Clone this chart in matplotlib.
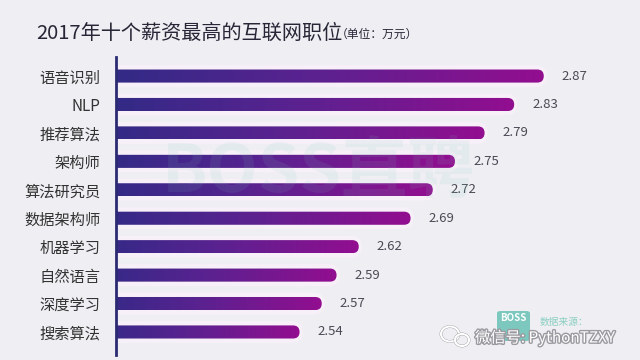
import matplotlib
matplotlib.use('Agg')
import matplotlib.pyplot as plt
import matplotlib.patheffects as pe
import numpy as np
from matplotlib.colors import LinearSegmentedColormap
from matplotlib.patches import FancyBboxPatch, Ellipse

plt.rcParams['font.family'] = ['Noto Sans CJK SC', 'DejaVu Sans']

jobs = ['语音识别', 'NLP', '推荐算法', '架构师', '算法研究员',
        '数据架构师', '机器学习', '自然语言', '深度学习', '搜索算法']
salaries = [2.87, 2.83, 2.79, 2.75, 2.72, 2.69, 2.62, 2.59, 2.57, 2.54]
title = '2017年十个薪资最高的互联网职位'
unit = '（单位：万元）'

BG = '#efeef3'
cmap = LinearSegmentedColormap.from_list('bm', ['#2b2c84', '#5a2290', '#920e8f'])

fig = plt.figure(figsize=(6.4, 3.6), dpi=100, facecolor=BG)
ax = fig.add_axes([116 / 640, 5 / 360, 524 / 640, 298 / 360])
ax.set_facecolor(BG)

x_min, x_max = 2.292, 3.0
y_lim = (len(jobs) - 0.19, -0.67)
ax.set_xlim(x_min, x_max)
ax.set_ylim(*y_lim)

# aspect between data units so the rounded ends come out as half circles
px_x = ax.transData.transform((1, 0))[0] - ax.transData.transform((0, 0))[0]
px_y = abs(ax.transData.transform((0, 1))[1] - ax.transData.transform((0, 0))[1])
aspect = px_x / px_y

bar_h = 0.46
start = x_min - 0.05
grad = np.linspace(0, 1, 256).reshape(1, -1)

for i, v in enumerate(salaries):
    # soft halo behind bar
    halo_h = bar_h + 0.3
    halo = FancyBboxPatch((start, i - halo_h / 2), v - start + 0.004, halo_h,
                          boxstyle=f"round,pad=0,rounding_size={halo_h / 2 / aspect}",
                          mutation_aspect=aspect, facecolor='#fbf2fb', edgecolor='none',
                          alpha=0.75, zorder=2)
    ax.add_patch(halo)

    shape = FancyBboxPatch((start, i - bar_h / 2), v - start, bar_h,
                           boxstyle=f"round,pad=0,rounding_size={bar_h / 2 / aspect}",
                           mutation_aspect=aspect, facecolor='none', edgecolor='none',
                           zorder=3)
    ax.add_patch(shape)
    im = ax.imshow(grad, extent=[start, v, i + bar_h / 2, i - bar_h / 2],
                   aspect='auto', cmap=cmap, zorder=3, interpolation='bilinear')
    im.set_clip_path(shape)

    ax.annotate(f'{v:.2f}', xy=(v, i), xytext=(13, 0), textcoords='offset points',
                ha='left', va='center', fontsize=9.5, color='#4a4a55', zorder=4)

ax.set_xlim(x_min, x_max)
ax.set_ylim(*y_lim)

for side in ['top', 'right', 'bottom']:
    ax.spines[side].set_visible(False)
ax.spines['left'].set_color('#2b2a72')
ax.spines['left'].set_linewidth(2)
ax.spines['left'].set_zorder(5)

ax.set_xticks([])
ax.set_yticks(range(len(jobs)))
ax.set_yticklabels(jobs, fontsize=11, color='#333333')
ax.tick_params(axis='y', length=0, pad=11)

fig.text(36 / 640, 1 - 33 / 360, title, fontsize=14.5, color='#262636',
         ha='left', va='center')
fig.text(336 / 640, 1 - 34 / 360, unit, fontsize=8.5, color='#262636',
         ha='left', va='center')

# watermarks
fig.text(318 / 640, 1 - 172 / 360, 'BOSS直聘', fontsize=48, fontweight='bold',
         color='#7ccabd', alpha=0.10, ha='center', va='center', zorder=6)

logo = FancyBboxPatch((497 / 640, 1 - 341 / 360), 33 / 640, 30 / 360,
                      boxstyle="round,pad=0,rounding_size=0.006",
                      transform=fig.transFigure, facecolor='#5fbfb1',
                      edgecolor='none', alpha=0.8, zorder=6)
fig.add_artist(logo)
fig.text(513 / 640, 1 - 318 / 360, 'BOSS', fontsize=7, fontweight='bold',
         color='white', ha='center', va='center', zorder=7)
fig.text(540 / 640, 1 - 322 / 360, '数据来源：', fontsize=7, color='#8ccfc4',
         ha='left', va='center', zorder=7)

outline = [pe.withStroke(linewidth=2, foreground='#9a9aa0')]
for cx, cy, w, h in [(450, 334, 18, 15), (462, 340, 14, 12)]:
    e = Ellipse((cx / 640, 1 - cy / 360), w / 640, h / 360, transform=fig.transFigure,
                facecolor='none', edgecolor='white', linewidth=1.5, zorder=8,
                path_effects=outline)
    fig.add_artist(e)
fig.text(475 / 640, 1 - 338 / 360, '微信号: PythonTZXY', fontsize=11, color='white',
         ha='left', va='center', zorder=8, path_effects=outline)

fig.savefig('out.png', dpi=100, facecolor=BG)
